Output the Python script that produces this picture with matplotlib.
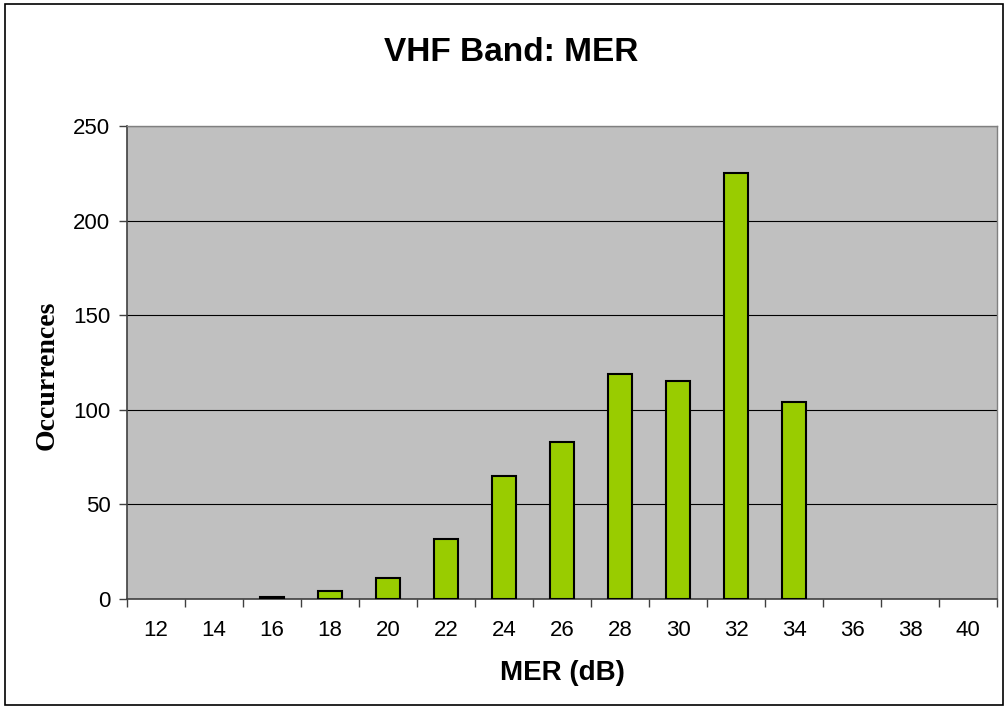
import matplotlib
matplotlib.use("Agg")
import matplotlib.pyplot as plt
import numpy as np
from matplotlib.patches import Rectangle

# MER histogram, VHF band
mer_db = ["12", "14", "16", "18", "20", "22", "24", "26", "28", "30", "32", "34", "36", "38", "40"]
occurrences = [0, 0, 1, 4, 11, 32, 65, 83, 119, 115, 225, 104, 0, 0, 0]
y_ticks = [0, 50, 100, 150, 200, 250]

plt.rcParams['font.family'] = ['Liberation Sans', 'DejaVu Sans']

fig = plt.figure(figsize=(10.05, 7.09), dpi=100)
fig.patches.append(Rectangle((0.005, 0.006), 0.993, 0.988, transform=fig.transFigure,
                             fill=False, edgecolor='black', linewidth=1.2))

ax = fig.add_axes([0.1264, 0.1551, 0.8657, 0.667])
ax.set_facecolor('#c0c0c0')

x = np.arange(len(mer_db))
edges = ['black' if v > 0 else 'none' for v in occurrences]
ax.bar(x, occurrences, width=0.42, color='#99cc00', edgecolor=edges, linewidth=1.5, zorder=3)

ax.set_xlim(-0.5, len(mer_db) - 0.5)
ax.set_ylim(0, 250)
ax.set_yticks(y_ticks)
ax.set_yticklabels([str(v) for v in y_ticks], fontsize=16)
ax.yaxis.grid(True, color='black', linewidth=0.8, zorder=1)
ax.set_axisbelow(True)

# categories centred, ticks between them
ax.set_xticks(x)
ax.set_xticklabels(mer_db, fontsize=16)
ax.tick_params(axis='x', length=0, pad=15)
ax.set_xticks(np.arange(-0.5, len(mer_db)), minor=True)
ax.tick_params(axis='x', which='minor', length=6, width=1, color='#404040', direction='out')
ax.tick_params(axis='y', length=6, width=1, color='#404040', direction='out', pad=6)

for s in ['left', 'bottom']:
    ax.spines[s].set_color('#404040')
    ax.spines[s].set_linewidth(1.2)
for s in ['top', 'right']:
    ax.spines[s].set_color('#808080')
    ax.spines[s].set_linewidth(1)

ax.set_xlabel('MER (dB)', fontsize=20, fontweight='bold', labelpad=14)
ax.set_ylabel('Occurrences', fontsize=20, fontweight='bold', family='Liberation Serif')
ax.yaxis.set_label_coords(-0.078, 0.474)
fig.text(0.5085, 0.926, 'VHF Band: MER', ha='center', va='center', fontsize=24, fontweight='bold')

fig.savefig('out.png', dpi=100)
